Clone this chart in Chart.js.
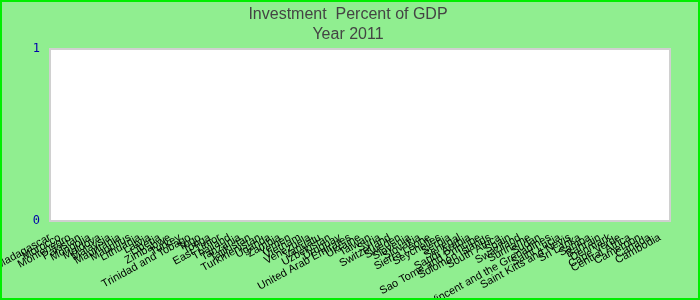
<!DOCTYPE html>
<html>
<head>
<meta charset="utf-8">
<script src="https://cdn.jsdelivr.net/npm/chart.js@4/dist/chart.umd.min.js"></script>
<style>
    body { margin: 0; }
    #wrap {
        width: 700px; height: 300px; box-sizing: border-box;
        border: 2px solid #00ee00; background: #90ee90;
    }
</style>
</head>
<body>
<div id="wrap"><canvas id="investChart" width="696" height="296"></canvas></div>
<script>
const titleLines = ['Investment  Percent of GDP', 'Year 2011'];

const countries = [
    'Madagascar', 'Morocco', 'Montenegro', 'Pakistan', 'Mongolia', 'Moldova', 'Malaysia',
    'Mauritania', 'Mauritius', 'Lithuania', 'Latvia', 'Liberia', 'Zimbabwe',
    'Turkey', 'Trinidad and Tobago', 'Togo', 'Tonga', 'East Timor', 'Thailand',
    'Tanzania', 'Tajikistan', 'Turkmenistan', 'Uganda', 'Zambia', 'Yemen', 'Vietnam',
    'Venezuela', 'Vanuatu', 'Uzbekistan', 'Uruguay', 'United Arab Emirates', 'Ukraine',
    'Taiwan', 'Syria', 'Switzerland', 'Sweden', 'Slovenia', 'Slovakia', 'Sierra Leone',
    'Seychelles', 'Serbia', 'Senegal', 'Saudi Arabia', 'Sao Tome and Principe',
    'Solomon Islands', 'South Africa', 'Spain', 'Swaziland', 'Suriname', 'Sudan',
    'Saint Vincent and the Grenadines', 'Saint Lucia', 'Saint Kitts and Nevis', 'Sri Lanka',
    'Samoa', 'Bahrain', 'Denmark', 'Cape Verde', 'Central Africa', 'Cameroon',
    'Canada', 'Cambodia'
];

// nothing is drawn in the plot: every country sits at 0
const investment = [
    0, 0, 0, 0, 0, 0, 0, 0, 0, 0, 0, 0, 0, 0, 0, 0,
    0, 0, 0, 0, 0, 0, 0, 0, 0, 0, 0, 0, 0, 0, 0, 0,
    0, 0, 0, 0, 0, 0, 0, 0, 0, 0, 0, 0, 0, 0, 0, 0,
    0, 0, 0, 0, 0, 0, 0, 0, 0, 0, 0, 0, 0, 0
];

const yMin = 0;
const yMax = 1;

// white plot background with a light grey frame
const plotBackground = {
    id: 'plotBackground',
    beforeDraw(chart) {
        const a = chart.chartArea;
        const ctx = chart.ctx;
        ctx.save();
        ctx.fillStyle = '#ffffff';
        ctx.fillRect(a.left, a.top, a.right - a.left, a.bottom - a.top);
        ctx.strokeStyle = '#d0d0d0';
        ctx.lineWidth = 2;
        ctx.strokeRect(a.left, a.top, a.right - a.left, a.bottom - a.top);
        ctx.restore();
    }
};

new Chart(document.getElementById('investChart'), {
    type: 'bar',
    data: {
        labels: countries,
        datasets: [{
            label: 'Investment',
            data: investment,
            backgroundColor: '#3366cc'
        }]
    },
    options: {
        responsive: false,
        animation: false,
        layout: { padding: { left: 24, right: 28, top: 0, bottom: 0 } },
        plugins: {
            legend: { display: false },
            tooltip: { enabled: false },
            title: {
                display: true,
                text: titleLines,
                color: '#444444',
                font: { family: 'Arial, "Liberation Sans"', size: 16, weight: 'normal', lineHeight: 1.25 },
                padding: { top: 3, bottom: 4 }
            }
        },
        scales: {
            x: {
                grid: { display: false, drawTicks: false },
                border: { display: false },
                afterFit: function(scale) {
                    // labels may run off the left edge, like the original
                    scale.height = 77;
                    scale.paddingLeft = 0;
                    scale.paddingRight = 0;
                },
                ticks: {
                    autoSkip: false,
                    minRotation: 29,
                    maxRotation: 29,
                    padding: 10,
                    labelOffset: -5,
                    color: '#000000',
                    font: { family: 'Arial, "Liberation Sans"', size: 11 }
                }
            },
            y: {
                min: yMin,
                max: yMax,
                grid: { display: false, drawTicks: false },
                border: { display: false },
                afterFit: function(scale) { scale.width = 24; },
                ticks: {
                    stepSize: 1,
                    padding: 10,
                    color: '#0000aa',
                    font: { family: '"DejaVu Sans Mono", monospace', size: 12 }
                }
            }
        }
    },
    plugins: [plotBackground]
});
</script>
</body>
</html>
